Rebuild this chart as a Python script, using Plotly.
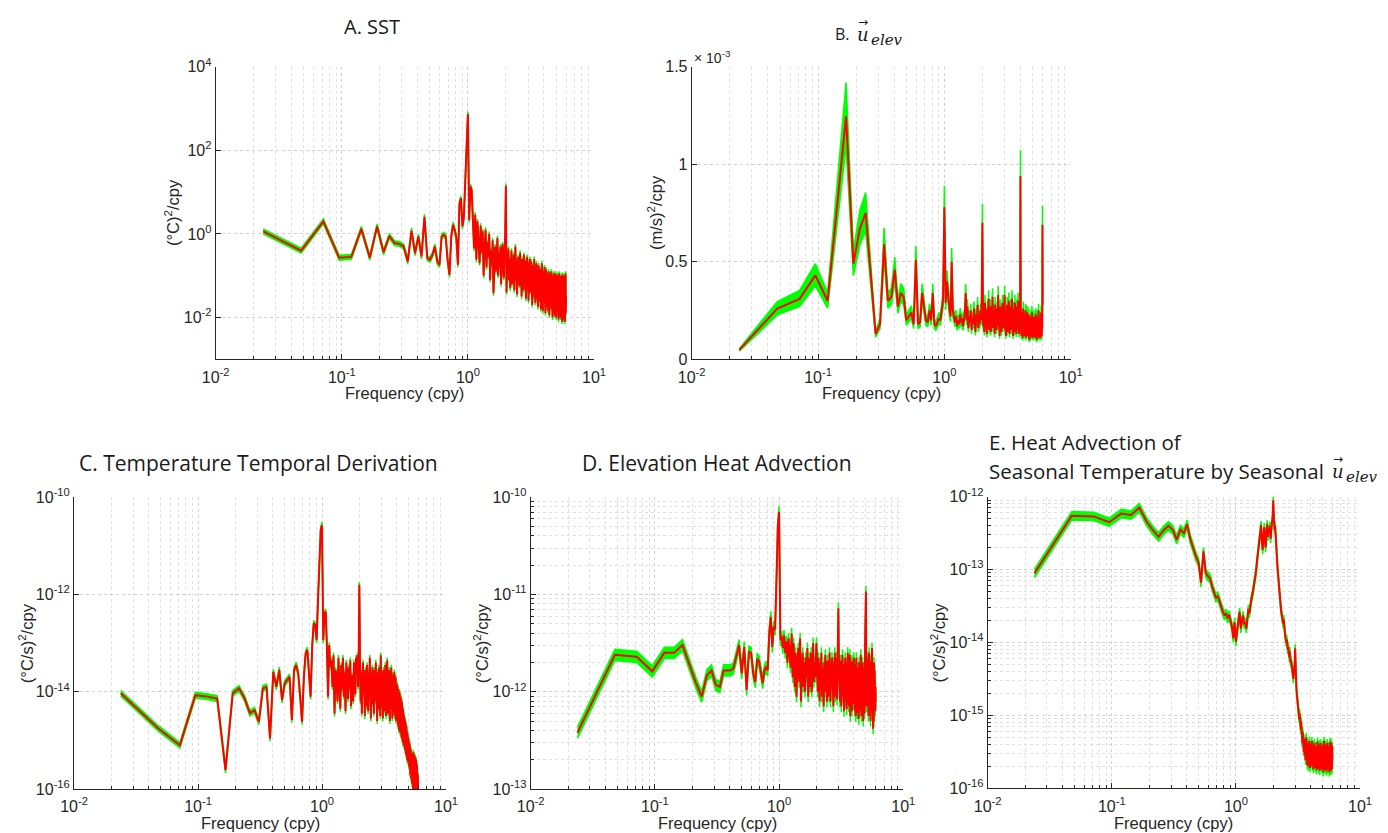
import numpy as np
import plotly.graph_objects as go

# ---------------- data ----------------
N_FREQ = 252
FREQ_STEP_CPY = 1.0 / 42.0          # frequency resolution (cpy)
freq = np.arange(1, N_FREQ + 1) * FREQ_STEP_CPY

CI_UPPER = 1.14
CI_LOWER = 0.875    # lower confidence factor

# A. SST spectrum, log10((degC)^2/cpy)
sst_log10 = [
    0.06, -0.40, 0.30, -0.57, -0.55, 0.12, -0.57, 0.18, -0.44, -0.05,
    -0.22, -0.24, -0.30, -0.66, 0.08, -0.46, -0.06, -0.54, 0.41, -0.58,
    -0.62, -0.50, -0.30, -0.66, -0.74, -0.06, -0.02, -0.06, -0.62, -0.98,
    -0.06, 0.22, 0.10, -0.10, -0.74, 0.73, 0.85, 0.18, 0.40, 1.29, 2.40, 2.87,
    0.33, 1.13, 1.05, 0.10, -0.35, 0.46, -0.62, 0.30, -0.20, -0.70,
    0.20, -0.45, 0.06, -1.00, -0.30, 0.10, -0.80, -0.20, -0.55, 0.00,
    -1.10, -0.40, -0.75, -0.15, -1.42, -0.50, -0.30, -0.90, -0.60, -0.10,
    -1.00, -0.45, -0.80, -0.30, -1.20, -0.55, -0.25, -0.70, -1.05, -0.35, -0.05,
    1.15,
    -1.40, -0.70, -0.95, -0.35, -1.10, -0.60, -1.30, -0.80, -0.40, -1.20, -0.75, -1.00,
    -0.50, -1.35, -0.85, -0.30, -1.05, -0.65, -1.45, -0.90, -0.55, -1.15, -0.70, -1.25,
    -0.45, -1.00, -0.80, -1.50, -0.60, -1.10, -0.75, -1.35, -0.50, -0.95, -1.20, -0.65,
    -1.55, -0.85, -1.05, -0.55, -1.30, -0.90, -1.60, -0.70, -1.15, -0.60, -1.40, -1.00,
    -0.65, -1.45, -0.95, -1.70, -0.75, -1.20, -0.85, -1.50, -0.60, -1.25, -1.00, -1.65,
    -0.80, -1.35, -0.70, -1.55, -1.05, -0.90, -1.75, -1.10, -0.75, -1.40, -1.00, -1.60,
    -0.85, -1.30, -1.80, -0.95, -1.20, -0.70, -1.55, -1.05, -1.85, -0.90, -1.35, -1.10,
    -1.65, -0.80, -1.45, -1.00, -1.90, -1.15, -0.85, -1.50, -1.25, -1.75, -0.95, -1.40,
    -1.10, -1.85, -0.90, -1.55, -1.20, -1.95, -1.05, -1.35, -0.95, -1.70, -1.25, -1.50,
    -0.90, -1.80, -1.15, -1.45, -2.00, -1.00, -1.60, -1.25, -1.90, -0.95, -1.40, -1.70,
    -1.10, -1.95, -1.30, -0.95, -1.65, -1.20, -2.00, -1.05, -1.55, -1.35, -1.85, -0.98,
    -1.45, -1.75, -1.15, -2.05, -1.30, -0.95, -1.70, -1.40, -1.95, -1.10, -1.60, -1.25,
    -2.00, -1.00, -1.50, -1.80, -1.20, -2.10, -1.35, -0.98, -1.75, -1.45, -1.95, -1.15,
    -1.60, -2.05, -1.25, -1.00, -1.85, -1.40, -2.10, -1.10, -1.70, -0.95, -1.90, -1.50,
]

# B. u_elev spectrum, units of 1e-3 (m/s)^2/cpy
uelev_e3 = [
    0.048, 0.26, 0.31, 0.43, 0.30, 0.80, 1.245, 0.49, 0.67, 0.75,
    0.42, 0.13, 0.18, 0.59, 0.30, 0.32, 0.46, 0.27, 0.34, 0.32,
    0.20, 0.22, 0.24, 0.18, 0.51, 0.18, 0.19, 0.34, 0.28, 0.20,
    0.19, 0.25, 0.20, 0.34, 0.18, 0.17, 0.19, 0.21, 0.20, 0.24,
    0.30, 0.78, 0.29, 0.40, 0.30, 0.26, 0.22, 0.50, 0.25, 0.21,
    0.19, 0.22, 0.17, 0.20, 0.18, 0.23, 0.19, 0.21, 0.17, 0.20,
    0.24, 0.34, 0.20, 0.27, 0.16, 0.22, 0.19, 0.25, 0.15, 0.21,
    0.18, 0.26, 0.20, 0.14, 0.23, 0.19, 0.28, 0.16, 0.22, 0.18, 0.25, 0.20, 0.30,
    0.70,
    0.17, 0.24, 0.14, 0.29, 0.19, 0.22, 0.13, 0.26, 0.18, 0.31, 0.15, 0.21,
    0.27, 0.14, 0.23, 0.18, 0.32, 0.16, 0.20, 0.25, 0.13, 0.28, 0.19, 0.22,
    0.15, 0.26, 0.20, 0.33, 0.17, 0.22, 0.12, 0.27, 0.19, 0.24, 0.14, 0.21,
    0.29, 0.16, 0.23, 0.18, 0.26, 0.33, 0.15, 0.21, 0.12, 0.25, 0.19, 0.28,
    0.14, 0.22, 0.17, 0.30, 0.20, 0.13, 0.24, 0.18, 0.27, 0.15, 0.21, 0.31,
    0.16, 0.23, 0.12, 0.26, 0.19, 0.22, 0.14, 0.29, 0.17, 0.24, 0.20, 0.13,
    0.27, 0.18, 0.22, 0.15, 0.30, 0.19, 0.25, 0.13, 0.21, 0.28, 0.17, 0.94,
    0.16, 0.24, 0.12, 0.20, 0.15, 0.23, 0.11, 0.18, 0.26, 0.14, 0.21, 0.12,
    0.19, 0.13, 0.22, 0.16, 0.25, 0.11, 0.17, 0.20, 0.13, 0.24, 0.15, 0.18,
    0.12, 0.21, 0.14, 0.23, 0.10, 0.17, 0.13, 0.20, 0.15, 0.11, 0.22, 0.14,
    0.18, 0.12, 0.24, 0.13, 0.16, 0.20, 0.11, 0.19, 0.14, 0.22, 0.12, 0.17,
    0.13, 0.21, 0.15, 0.11, 0.19, 0.14, 0.23, 0.12, 0.18, 0.16, 0.10, 0.20,
    0.14, 0.22, 0.12, 0.17, 0.13, 0.25, 0.15, 0.11, 0.20, 0.14, 0.18, 0.12,
    0.21, 0.13, 0.17, 0.11, 0.24, 0.14, 0.19, 0.12, 0.22, 0.16, 0.69, 0.28,
]

# C. Temperature temporal derivation, log10((degC/s)^2/cpy)
dtdt_log10 = [
    -14.03, -14.75, -15.10, -14.07, -14.10, -14.14, -15.61, -14.03, -13.93, -14.14,
    -14.44, -14.38, -14.62, -13.93, -13.90, -14.96, -13.59, -13.90, -13.55, -14.17,
    -13.83, -13.76, -13.69, -14.58, -13.55, -13.45, -13.62, -14.10, -14.62, -13.69,
    -13.21, -13.14, -13.62, -14.10, -13.07, -12.59, -12.63, -12.94, -12.11, -11.22,
    -10.67, -10.57, -12.94, -12.39, -12.35, -13.07, -14.10, -13.04, -13.48,
    -13.35, -13.90, -13.25, -14.45, -13.55, -13.70, -14.20, -13.30, -13.85, -14.35,
    -13.45, -13.95, -13.30, -14.10, -13.60, -14.40, -13.40, -13.80, -14.15, -13.50,
    -13.95, -13.35, -14.30, -13.65, -13.85, -14.20, -13.40, -13.75, -14.05, -13.30,
    -13.60, -13.25, -13.90, -13.30,
    -11.80,
    -13.35, -14.20, -13.60, -14.45, -13.80, -13.40, -14.05, -13.70, -14.50, -13.55, -13.95, -14.30,
    -13.45, -13.85, -14.40, -13.60, -14.10, -13.30, -13.90, -14.55, -13.65, -14.00, -13.50, -14.25,
    -13.75, -14.45, -13.55, -13.95, -14.20, -13.40, -14.05, -13.70, -14.60, -13.60, -13.90, -14.35,
    -13.50, -14.10, -13.80, -14.50, -13.25, -13.85, -14.30, -13.65, -14.00, -14.55, -13.55, -13.95,
    -14.40, -13.70, -14.15, -13.45, -13.90, -14.50, -13.60, -14.05, -13.35, -13.85, -14.45, -13.75,
    -14.20, -13.55, -14.00, -14.60, -13.70, -13.95, -14.35, -13.50, -14.10, -13.80, -14.55, -13.65,
    -14.05, -14.40, -13.75, -14.25, -13.60, -14.50, -13.90, -14.15, -13.70, -14.60, -14.00, -14.30,
    -14.55, -13.85, -14.35, -14.70, -13.95, -14.45, -14.15, -14.80, -14.00, -14.50, -14.30, -14.85,
    -14.10, -14.60, -14.40, -14.95, -14.20, -14.70, -14.45, -15.05, -14.35, -14.80, -14.55, -15.10,
    -14.50, -14.90, -14.65, -15.20, -14.60, -15.00, -14.80, -15.30, -14.70, -15.10, -14.90, -15.40,
    -14.85, -15.20, -15.00, -15.45, -14.95, -15.30, -15.10, -15.55, -15.05, -15.40, -15.25, -15.70,
    -15.15, -15.50, -15.35, -15.80, -15.25, -15.60, -15.45, -15.90, -15.35, -15.70, -15.55, -16.00,
    -15.25, -15.80, -15.45, -15.95, -15.30, -15.75, -15.55, -16.05, -15.35, -15.90, -15.60, -16.10,
    -15.40, -16.00, -15.65, -16.20, -15.50, -16.10, -15.80, -16.30, -15.70, -16.25, -16.00, -16.50,
]

# D. Elevation heat advection, log10((degC/s)^2/cpy)
elev_adv_log10 = [
    -12.42, -11.62, -11.64, -11.79, -11.60, -11.60, -11.52, -11.74, -11.91, -12.05,
    -11.83, -11.78, -11.93, -11.95, -11.78, -11.78, -11.78, -11.76, -11.64, -11.52,
    -11.81, -11.54, -11.98, -11.59, -11.60, -11.81, -11.90, -11.66, -11.69, -11.81,
    -11.91, -11.78, -11.74, -11.78, -11.40, -11.23, -11.54, -11.33, -11.36, -10.85,
    -10.30, -10.15, -11.47, -11.43,
    -11.55, -11.42, -11.60, -11.48, -11.70, -11.45, -11.65, -11.75, -11.40, -11.85,
    -11.50, -11.95, -11.60, -12.05, -11.70, -11.55, -11.90, -11.45, -12.10, -11.75,
    -11.60, -11.95, -11.70, -12.00, -11.65, -11.85, -11.55, -12.05, -11.80, -11.65,
    -11.95, -11.60, -12.00, -11.75, -11.50, -11.90, -11.70, -11.85, -11.60,
    -11.50,
    -11.80, -12.00, -11.65, -11.90, -12.10, -11.70, -11.85, -11.60, -12.05, -11.75, -11.95, -12.15,
    -11.70, -11.85, -11.62, -12.00, -11.80, -12.10, -11.68, -11.90, -11.75, -12.05, -11.60, -11.95,
    -12.10, -11.72, -11.88, -11.65, -12.00, -11.80, -12.15, -11.70, -11.92, -11.60, -12.05, -11.78,
    -11.90, -11.65, -12.08, -11.75, -11.55,
    -11.14,
    -11.60, -11.95, -11.75, -12.10, -11.68, -11.90, -12.15, -11.70, -11.85, -11.62,
    -12.05, -11.80, -11.95, -12.20, -11.72, -11.88, -11.65, -12.10, -11.78, -11.92,
    -12.18, -11.70, -11.85, -11.60, -12.02, -11.80, -12.15, -11.75, -11.95, -11.62,
    -12.25, -11.85, -11.70, -12.05, -11.90, -12.20, -11.68, -11.98, -11.78, -12.12,
    -11.88, -11.65,
    -12.00, -11.80, -12.20, -11.72, -11.95, -12.25, -11.85, -11.65, -12.10, -11.90,
    -12.22, -11.75, -11.98, -12.15, -11.82, -12.28, -11.70, -11.95, -12.05, -11.78,
    -12.20, -11.88, -11.62, -12.12, -11.92, -12.25, -11.80, -12.00, -11.70, -12.18,
    -11.85, -12.30, -11.90, -11.75, -12.10, -11.95, -12.22, -11.68, -11.40, -11.60,
    -11.30,
    -10.97,
    -11.50, -11.85, -12.15, -11.70, -12.05, -11.80, -12.20, -11.65, -11.95, -12.25,
    -11.75, -12.10, -11.60, -11.90, -12.18, -11.72, -12.00, -11.85, -12.30, -11.68,
    -11.95, -12.10, -11.80, -12.20, -11.55, -11.95, -12.20, -11.75, -12.05, -12.38,
    -12.15, -11.88, -12.30, -11.70, -11.98, -12.12, -11.78, -12.05, -11.85, -12.20,
    -11.95, -12.10,
]

# E. Heat advection of seasonal T by seasonal u_elev, log10((degC/s)^2/cpy)
seas_adv_log10 = [
    -13.05, -12.26, -12.27, -12.35, -12.23, -12.25, -12.15, -12.34, -12.46, -12.55,
    -12.46, -12.40, -12.45, -12.59, -12.45, -12.50, -12.38, -12.58, -12.70, -12.82,
    -12.90, -13.18, -12.75, -13.05, -13.09, -13.12, -13.23, -13.30, -13.39, -13.36,
    -13.44, -13.50, -13.58, -13.63, -13.60, -13.67, -13.62, -13.70, -13.78, -13.94,
    -13.72, -13.99, -13.80, -13.70, -13.58, -13.81, -13.70, -13.63, -13.75, -13.72,
    -13.81, -13.65, -13.54, -13.60, -13.45, -13.40, -13.35, -13.28, -13.20, -13.12,
    -13.03, -12.90, -12.80, -12.70, -12.59, -12.50, -12.39, -12.60, -12.73, -12.55,
    -12.42, -12.60, -12.70, -12.48, -12.38, -12.55, -12.45, -12.48, -12.40, -12.58,
    -12.42, -12.35, -12.30, -12.05, -12.30, -12.45, -12.40, -12.62, -12.73, -12.85,
    -12.98, -13.10, -13.20, -13.32, -13.35, -13.48, -13.55, -13.60, -13.66, -13.70,
    -13.74, -13.68, -13.80, -13.86, -13.92, -13.95, -14.00, -13.96, -14.05, -14.10,
    -14.06, -14.15, -14.20, -14.12, -14.22, -14.28, -14.25, -14.32, -14.40, -14.36,
    -14.45, -14.50, -14.42, -14.38, -14.30, -14.08, -14.45, -14.55, -14.62, -14.70,
    -14.76, -14.82, -14.88, -14.93, -14.98, -15.05, -14.97, -15.12, -15.02, -15.20,
    -15.08, -15.30, -15.15, -15.38, -15.22, -15.45, -15.28, -15.50, -15.32, -15.40,
    -15.55, -15.35, -15.62, -15.42, -15.30, -15.58, -15.48, -15.68, -15.38, -15.52, -15.70, -15.44,
    -15.60, -15.35, -15.55, -15.72, -15.45, -15.62, -15.40, -15.66, -15.50, -15.35, -15.70, -15.48,
    -15.58, -15.40, -15.74, -15.52, -15.63, -15.38, -15.68, -15.46, -15.57, -15.72, -15.42, -15.60,
    -15.50, -15.75, -15.45, -15.62, -15.36, -15.70, -15.55, -15.48, -15.73, -15.40, -15.64, -15.52,
    -15.76, -15.44, -15.60, -15.38, -15.70, -15.50, -15.65, -15.42, -15.74, -15.55, -15.48, -15.68,
    -15.40, -15.62, -15.78, -15.46, -15.58, -15.35, -15.72, -15.52, -15.64, -15.44, -15.75, -15.56,
    -15.40, -15.68, -15.50, -15.77, -15.45, -15.62, -15.38, -15.70, -15.54, -15.46, -15.74, -15.58,
    -15.42, -15.66, -15.52, -15.78, -15.44, -15.60, -15.36, -15.72, -15.55, -15.48, -15.76, -15.50,
    -15.38, -15.65, -15.52, -15.74, -15.42, -15.60,
]

for _name, _arr in [("sst", sst_log10), ("uelev", uelev_e3), ("dtdt", dtdt_log10),
                    ("elev", elev_adv_log10), ("seas", seas_adv_log10)]:
    if len(_arr) != N_FREQ:
        raise ValueError(f"{_name} has {len(_arr)} values")

# ---------------- figure ----------------
W, H = 1388, 833
GREEN = "#00ff00"
RED = "#ff0000"
AX = "#262626"
TXT = "#1a1a1a"
TICK_FONT = dict(family="Liberation Sans, Arial", size=16, color=AX)
LABEL_FONT = dict(family="Liberation Sans, Arial", size=16.5, color=AX)
SERIF = "DejaVu Serif"


def px_x(x):
    return x / W


def px_y(y):
    return 1 - y / H


def sup_label(e):
    return f"10<sup>{e}</sup>"


panels = [
    dict(name="A", vals=10 ** np.array(sst_log10), box=(215.7, 594.0, 66.7, 359.3),
         ylog=True, yrange=[-3, 4], yticks=[-2, 0, 2, 4], yminor=False,
         ylabel="(°C)<sup>2</sup>/cpy", ylabel_x=172),
    dict(name="B", vals=np.array(uelev_e3), box=(691.7, 1070.7, 66.7, 359.3),
         ylog=False, yrange=[0, 1.5], ylabel="(m/s)<sup>2</sup>/cpy", ylabel_x=655),
    dict(name="C", vals=10 ** np.array(dtdt_log10), box=(74.0, 446.0, 497.3, 789.0),
         ylog=True, yrange=[-16, -10], yticks=[-16, -14, -12, -10], yminor=False,
         ylabel="(°C/s)<sup>2</sup>/cpy", ylabel_x=26),
    dict(name="D", vals=10 ** np.array(elev_adv_log10), box=(530.7, 903.3, 497.3, 789.0),
         ylog=True, yrange=[-13, -10], yticks=[-13, -12, -11, -10], yminor=True,
         ylabel="(°C/s)<sup>2</sup>/cpy", ylabel_x=481),
    dict(name="E", vals=10 ** np.array(seas_adv_log10), box=(987.7, 1360.0, 496.7, 788.3),
         ylog=True, yrange=[-16, -12], yticks=[-16, -15, -14, -13, -12], yminor=True,
         ylabel="(°C/s)<sup>2</sup>/cpy", ylabel_x=938),
]

fig = go.Figure()
layout = dict(
    width=W, height=H, margin=dict(l=0, r=0, t=0, b=0),
    paper_bgcolor="white", plot_bgcolor="white", showlegend=False,
)
annotations = []

GRID = "#d0d0d0"
MINOR_GRID = "#e0e0e0"

for i, p in enumerate(panels, start=1):
    xa = "x" if i == 1 else f"x{i}"
    ya = "y" if i == 1 else f"y{i}"
    vals = p["vals"]
    fig.add_trace(go.Scatter(x=freq, y=vals * CI_LOWER, mode="lines", xaxis=xa, yaxis=ya,
                             line=dict(color=GREEN, width=1.5), hoverinfo="skip"))
    fig.add_trace(go.Scatter(x=freq, y=vals * CI_UPPER, mode="lines", xaxis=xa, yaxis=ya,
                             fill="tonexty", fillcolor=GREEN,
                             line=dict(color=GREEN, width=1.5), hoverinfo="skip"))
    fig.add_trace(go.Scatter(x=freq, y=vals, mode="lines", xaxis=xa, yaxis=ya,
                             line=dict(color=RED, width=2), hoverinfo="skip"))

    x0, x1, y0, y1 = p["box"]
    xminor_vals = [d * 10 ** e for e in range(-2, 1) for d in range(2, 10)]
    xaxis = dict(
        type="log", range=[-2, 1], domain=[px_x(x0), px_x(x1)], anchor=ya,
        showline=True, linecolor=AX, linewidth=1, mirror=False,
        ticks="inside", ticklen=5, tickcolor=AX, tickwidth=1,
        tickmode="array", tickvals=[0.01, 0.1, 1, 10],
        ticktext=[sup_label(-2), sup_label(-1), sup_label(0), sup_label(1)],
        tickfont=TICK_FONT, ticklabelstandoff=3,
        showgrid=True, gridcolor=GRID, griddash="dot", gridwidth=1,
        minor=dict(tickmode="array", tickvals=xminor_vals, ticks="inside", ticklen=3,
                   tickcolor=AX, showgrid=True, gridcolor=MINOR_GRID, griddash="dot"),
        zeroline=False, automargin=False, fixedrange=True,
    )
    if p["ylog"]:
        e0, e1 = p["yrange"]
        yaxis = dict(
            type="log", range=p["yrange"], tickmode="array",
            tickvals=[10.0 ** e for e in p["yticks"]],
            ticktext=[sup_label(e) for e in p["yticks"]],
        )
        if p["yminor"]:
            yminor_vals = [d * 10.0 ** e for e in range(e0, e1) for d in range(2, 10)]
            yaxis["minor"] = dict(tickmode="array", tickvals=yminor_vals, ticks="inside",
                                  ticklen=3, tickcolor=AX, showgrid=True,
                                  gridcolor=MINOR_GRID, griddash="dot")
    else:
        yaxis = dict(type="linear", range=p["yrange"], tickmode="array",
                     tickvals=[0, 0.5, 1, 1.5], ticktext=["0", "0.5", "1", "1.5"])
    yaxis.update(
        domain=[px_y(y1), px_y(y0)], anchor=xa,
        showline=True, linecolor=AX, linewidth=1, mirror=False,
        ticks="inside", ticklen=5, tickcolor=AX, tickwidth=1,
        tickfont=TICK_FONT, showgrid=True, gridcolor=GRID, griddash="dot", gridwidth=1,
        zeroline=False, automargin=False, fixedrange=True,
    )
    layout["xaxis" if i == 1 else f"xaxis{i}"] = xaxis
    layout["yaxis" if i == 1 else f"yaxis{i}"] = yaxis

    # axis titles
    xc = (x0 + x1) / 2
    xlab_y = 393 if y1 < 400 else 823
    annotations.append(dict(text="Frequency (cpy)", x=px_x(xc), y=px_y(xlab_y),
                            xref="paper", yref="paper", xanchor="center", yanchor="middle",
                            showarrow=False, font=LABEL_FONT))
    annotations.append(dict(text=p["ylabel"], x=px_x(p["ylabel_x"]), y=px_y((y0 + y1) / 2),
                            xref="paper", yref="paper", xanchor="center", yanchor="middle",
                            textangle=-90, showarrow=False, font=LABEL_FONT))


def add_text(text, x, y, size, family="Open Sans", xanchor="center", color=TXT):
    annotations.append(dict(text=text, x=px_x(x), y=px_y(y), xref="paper", yref="paper",
                            xanchor=xanchor, yanchor="middle", showarrow=False,
                            font=dict(family=family, size=size, color=color)))


# panel titles
add_text("A. SST", 371.7, 26.5, 20)
add_text("C. Temperature Temporal Derivation", 258, 463, 21)
add_text("D. Elevation Heat Advection", 717, 463, 21)
add_text("E. Heat Advection of", 987, 442, 20.5, xanchor="left")
add_text("Seasonal Temperature by Seasonal", 987, 470.5, 20.5, xanchor="left")

# vector symbol u_elev (B title and E title)
add_text("B.", 833, 34, 16, xanchor="left")
for ux, uy in [(862.5, 34.5), (1337.5, 471.5)]:
    add_text("<i>u</i>", ux, uy, 18, family=SERIF)
    add_text("<i>elev</i>", ux + 6.5, uy + 5.5, 15, family=SERIF, xanchor="left")
    add_text("\u2192", ux + 0.5, uy - 12, 12, family="DejaVu Sans")

add_text("× 10<sup>-3</sup>", 692, 57, 14, family="Liberation Sans, Arial", xanchor="left",
         color=AX)

layout["annotations"] = annotations
fig.update_layout(**layout)
fig.write_html(
    "out.html",
    config={"displayModeBar": False, "staticPlot": True},
    post_script="document.body.style.margin='0';document.body.style.overflow='hidden';",
)
